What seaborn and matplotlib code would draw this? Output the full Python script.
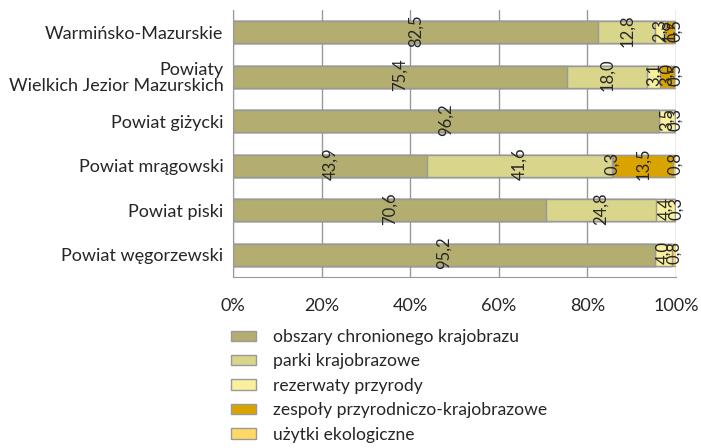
import numpy as np
import pandas as pd
import matplotlib
matplotlib.use("Agg")
import matplotlib.pyplot as plt
from matplotlib.patches import Patch
import seaborn as sns

# dane (%)
regions = ["Warmińsko-Mazurskie", "Powiaty\nWielkich Jezior Mazurskich", "Powiat giżycki",
           "Powiat mrągowski", "Powiat piski", "Powiat węgorzewski"]
categories = ["obszary chronionego krajobrazu", "parki krajobrazowe", "rezerwaty przyrody",
              "zespoły przyrodniczo-krajobrazowe", "użytki ekologiczne"]
obszary = [82.5, 75.4, 96.2, 43.9, 70.6, 95.2]
parki = [12.8, 18.0, np.nan, 41.6, 24.8, np.nan]
rezerwaty = [2.3, 3.1, 3.5, 0.3, 4.4, 4.0]
zespoly = [1.9, 3.0, np.nan, 13.5, np.nan, np.nan]
uzytki = [0.5, 0.5, 0.3, 0.8, 0.3, 0.8]
colors = ["#b3ad6f", "#d9d58a", "#f8f09c", "#d9a400", "#ffd966"]

sns.set_style("white")
plt.rcParams["font.family"] = ["Lato", "DejaVu Sans"]

df = pd.DataFrame({"region": regions, categories[0]: obszary, categories[1]: parki,
                   categories[2]: rezerwaty, categories[3]: zespoly, categories[4]: uzytki})
vals = df[categories].fillna(0)
cum = vals.cumsum(axis=1)

fig = plt.figure(figsize=(7.01, 4.48), dpi=100)
ax = fig.add_axes([233 / 701, 1 - 277 / 448, 443 / 701, 267 / 448])

# nakładanie skumulowanych słupków od najdłuższego
for k in range(len(categories) - 1, -1, -1):
    sns.barplot(x=cum[categories[k]], y=df["region"], orient="h", color=colors[k],
                width=0.5, edgecolor="#999999", linewidth=1, saturation=1, ax=ax, zorder=3)

# etykiety danych
for i in range(len(regions)):
    start = 0
    for k, cat in enumerate(categories):
        v = df[cat].iloc[i]
        if not np.isnan(v):
            ax.text(start + v / 2, i - 0.04, f"{v:.1f}".replace(".", ","), rotation=90,
                    ha="center", va="center", fontsize=12, zorder=5)
            start += v

ax.set_xlim(0, 100)
ax.set_ylim(5.5, -0.5)
ax.set_xticks([0, 20, 40, 60, 80, 100])
ax.set_xticklabels([f"{t}%" for t in range(0, 101, 20)], fontsize=13)
ax.set_xlabel("")
ax.set_ylabel("")
ax.tick_params(axis="y", length=0, pad=7, labelsize=13)
ax.tick_params(axis="x", length=4, color="#999999", pad=11)
for lab in ax.get_yticklabels():
    lab.set_multialignment("right")
    lab.set_linespacing(1.0)
ax.grid(axis="x", color="#999999", linewidth=1, zorder=0)
ax.set_axisbelow(True)
for s in ["top", "right"]:
    ax.spines[s].set_visible(False)
for s in ["left", "bottom"]:
    ax.spines[s].set_color("#999999")

handles = [Patch(facecolor=c, edgecolor="#999999", label=l) for c, l in zip(colors, categories)]
fig.legend(handles=handles, loc="upper left", bbox_to_anchor=(224 / 701, 1 - 322 / 448),
           frameon=False, fontsize=12.6, handlelength=1.45, handleheight=0.55,
           labelspacing=0.48, handletextpad=0.95, borderaxespad=0)

fig.savefig("out.png", dpi=100)
